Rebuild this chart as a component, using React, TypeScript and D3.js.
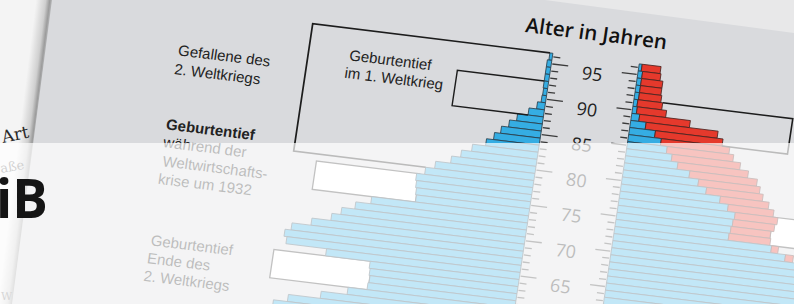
import React from 'react';
import * as d3 from 'd3';

// ---- data (values in thousands) ----
const ages = [96, 95, 94, 93, 92, 91, 90, 89, 88, 87, 86, 85, 84, 83, 82, 81, 80, 79, 78, 77, 76, 75, 74, 73, 72, 71, 70, 69, 68, 67, 66, 65, 64, 63, 62, 61, 60, 59, 58, 57, 56, 55];
const men = [6, 9, 9, 9, 9, 8, 9, 16, 31, 52, 66, 80, 92, 106, 132, 152, 170, 200, 218, 234, 232, 230, 228, 316, 346, 372, 390, 428, 466, 478, 472, 390, 300, 298, 296, 298, 336, 388, 452, 480, 490, 500];
const women = [44, 46, 52, 52, 54, 58, 68, 118, 176, 188, 204, 214, 230, 248, 268, 276, 284, 298, 310, 320, 316, 310, 312, 330, 362, 400, 430, 470, 490, 500, 500, 470, 440, 440, 440, 440, 460, 500, 520, 530, 540, 550];
const ageLabels = [95, 90, 85, 80, 75, 70, 65];

// annotation boxes (expected values)
const menWarTop = 96.5, menWarBottom = 78.5, menWarExpected = 484;
const ww1Top = 92.5, ww1Bottom = 87.5, ww1MenExpected = 184;
const ww1WomenTop = 91.5, ww1WomenBottom = 86.5, ww1WomenExpected = 320;
const crisisTop = 77.5, crisisBottom = 73.5, crisisMenExpected = 436, crisisWomenExpected = 480;
const postwarTop = 64.5, postwarBottom = 60.5, postwarMenExpected = 494;

const W = 794, H = 304;
const A = (7 * Math.PI) / 180;
const B = (8.5 * Math.PI) / 180;
const AXL = 42, AXR = 45;

const DARK_BLUE = '#35ade3';
const RED = '#e5392c';

export default function App() {
  const y = d3.scaleLinear().domain([95, 65]).range([0, 214.5]);
  const x = d3.scaleLinear().domain([0, 500]).range([0, 250]);
  const valOf = (arr: number[], age: number) => arr[ages.indexOf(age)];
  const rows = ages.map((a, i) => ({ age: a, m: men[i], w: women[i] }));
  const tf = `matrix(${Math.cos(A)} ${Math.sin(A)} ${-Math.sin(B)} ${Math.cos(B)} 593 69)`;

  const lxEnd = (v: number) => -AXL - x(v);
  const rxEnd = (v: number) => AXR + x(v);

  const menWarPath = `M${lxEnd(valOf(men, 96))},${y(menWarTop)}H${lxEnd(menWarExpected)}V${y(menWarBottom)}H${lxEnd(valOf(men, 78))}`;
  const ww1MenPath = `M${lxEnd(valOf(men, 92))},${y(ww1Top)}H${lxEnd(ww1MenExpected)}V${y(ww1Bottom)}H${lxEnd(valOf(men, 88))}`;
  const ww1WomenPath = `M${rxEnd(valOf(women, 91))},${y(ww1WomenTop)}H${rxEnd(ww1WomenExpected)}V${y(ww1WomenBottom)}H${rxEnd(valOf(women, 87))}`;
  const crisisMenMin = d3.min([77, 76, 75, 74].map(a => valOf(men, a))) as number;
  const crisisWomenMin = d3.min([77, 76, 75, 74].map(a => valOf(women, a))) as number;
  const postwarMenMin = d3.min([64, 63, 62, 61].map(a => valOf(men, a))) as number;

  const txt = { fontFamily: '"Liberation Sans", Arial, sans-serif', fontSize: 15, fill: '#222' };

  return (
    <svg width={W} height={H} style={{ position: 'fixed', left: 0, top: 0 }}>
      <defs>
        <linearGradient id="edge" gradientUnits="userSpaceOnUse" x1="36" y1="0" x2="52" y2="2">
          <stop offset="0" stopColor="#f4f4f4" />
          <stop offset="0.6" stopColor="#cfcfcf" />
          <stop offset="0.85" stopColor="#9c9c9c" />
          <stop offset="1" stopColor="#b8b9bb" />
        </linearGradient>
        <clipPath id="pageClip">
          <polygon points={`52,0 ${W},0 ${W},${H} 12,${H}`} />
        </clipPath>
      </defs>
      <rect x={0} y={0} width={W} height={H} fill="#d9dadd" />
      <polygon points={`545,0 ${W},0 ${W},33`} fill="#e8e8e9" />

      <g clipPath="url(#pageClip)">
        <g transform={tf}>
          {/* boxes behind bars */}
          <rect x={lxEnd(crisisMenExpected)} y={y(crisisTop)} width={x(crisisMenExpected) - x(crisisMenMin)} height={y(crisisBottom) - y(crisisTop)} fill="#ffffff" stroke="#333" strokeWidth={1.3} />
          <rect x={rxEnd(crisisWomenMin)} y={y(crisisTop)} width={x(crisisWomenExpected) - x(crisisWomenMin)} height={y(crisisBottom) - y(crisisTop)} fill="#ffffff" stroke="#333" strokeWidth={1.3} />
          <rect x={lxEnd(postwarMenExpected)} y={y(postwarTop)} width={x(postwarMenExpected) - x(postwarMenMin)} height={y(postwarBottom) - y(postwarTop)} fill="#ffffff" stroke="#333" strokeWidth={1.3} />

          {rows.map(r => {
            const y0 = y(r.age + 0.5), h = y(r.age - 0.5) - y(r.age + 0.5);
            const inner = Math.min(r.m, r.w);
            return (
              <g key={r.age}>
                <rect x={lxEnd(r.m)} y={y0} width={x(r.m)} height={h} fill={DARK_BLUE} stroke="#2a3f4c" strokeWidth={0.8} />
                <rect x={AXR} y={y0} width={x(inner)} height={h} fill={DARK_BLUE} stroke="#2a3f4c" strokeWidth={0.8} />
                {r.w > r.m && (
                  <rect x={rxEnd(inner)} y={y0} width={x(r.w) - x(inner)} height={h} fill={RED} stroke="#4a2320" strokeWidth={0.8} />
                )}
              </g>
            );
          })}

          <path d={menWarPath} fill="none" stroke="#1c1c1c" strokeWidth={1.7} />
          <path d={ww1MenPath} fill="none" stroke="#1c1c1c" strokeWidth={1.4} />
          <path d={ww1WomenPath} fill="none" stroke="#1c1c1c" strokeWidth={1.6} />

          {/* ticks */}
          {ages.map(a => {
            const long = a % 5 === 0;
            return (
              <g key={'t' + a}>
                <line x1={-AXL + 1} x2={-AXL + (long ? 17 : 8)} y1={y(a)} y2={y(a)} stroke="#3a3a3a" strokeWidth={1.3} />
                <line x1={AXR - 1} x2={AXR - (long ? 16 : 8)} y1={y(a)} y2={y(a)} stroke="#3a3a3a" strokeWidth={1.3} />
              </g>
            );
          })}
          {ageLabels.map(a => (
            <text key={'l' + a} x={0} y={y(a) + 11.5} textAnchor="middle" fontFamily='"Open Sans", sans-serif' fontSize={18} fill="#222">{a}</text>
          ))}

          <text x={-73} y={-28.5} fontFamily='"Open Sans", sans-serif' fontWeight={600} fontSize={20.5} fill="#111">Alter in Jahren</text>

          <text {...txt} x={-413} y={37}>Gefallene des</text>
          <text {...txt} x={-414} y={56}>2. Weltkriegs</text>

          <text {...txt} x={-414} y={112} fontWeight={700}>Geburtentief</text>
          <text {...txt} x={-414} y={130}>während der</text>
          <text {...txt} x={-412} y={149}>Weltwirtschafts-</text>
          <text {...txt} x={-414} y={167}>krise um 1932</text>

          <text {...txt} x={-412} y={229}>Geburtentief</text>
          <text {...txt} x={-413} y={247}>Ende des</text>
          <text {...txt} x={-414} y={265}>2. Weltkriegs</text>

          <text {...txt} x={-243} y={21}>Geburtentief</text>
          <text {...txt} x={-245} y={39}>im 1. Weltkrieg</text>
        </g>
      </g>

      {/* page on the left */}
      <polygon points={`0,0 52,0 12,${H} 0,${H}`} fill="url(#edge)" />
      <text x={3} y={143} transform="rotate(-12 3 143)" fontFamily='"DejaVu Serif", serif' fontSize={17} fill="#2a2a2a">Art</text>
      <text x={1} y={173} transform="rotate(-10 1 173)" fontFamily='"DejaVu Serif", serif' fontSize={13} fill="#666">aße</text>
      <text x={1} y={204} transform="rotate(-10 1 204)" fontFamily='"DejaVu Serif", serif' fontSize={12} fill="#777">e</text>
      <text x={1} y={300} fontFamily='"DejaVu Serif", serif' fontSize={11} fill="#777">W</text>

      {/* faded lower half */}
      <rect x={0} y={143} width={W} height={H - 143} fill="#ffffff" opacity={0.7} />

      <text x={-4} y={218} fontFamily='"Open Sans", sans-serif' fontWeight={700} fontSize={53} fill="#151515">iB</text>
    </svg>
  );
}
